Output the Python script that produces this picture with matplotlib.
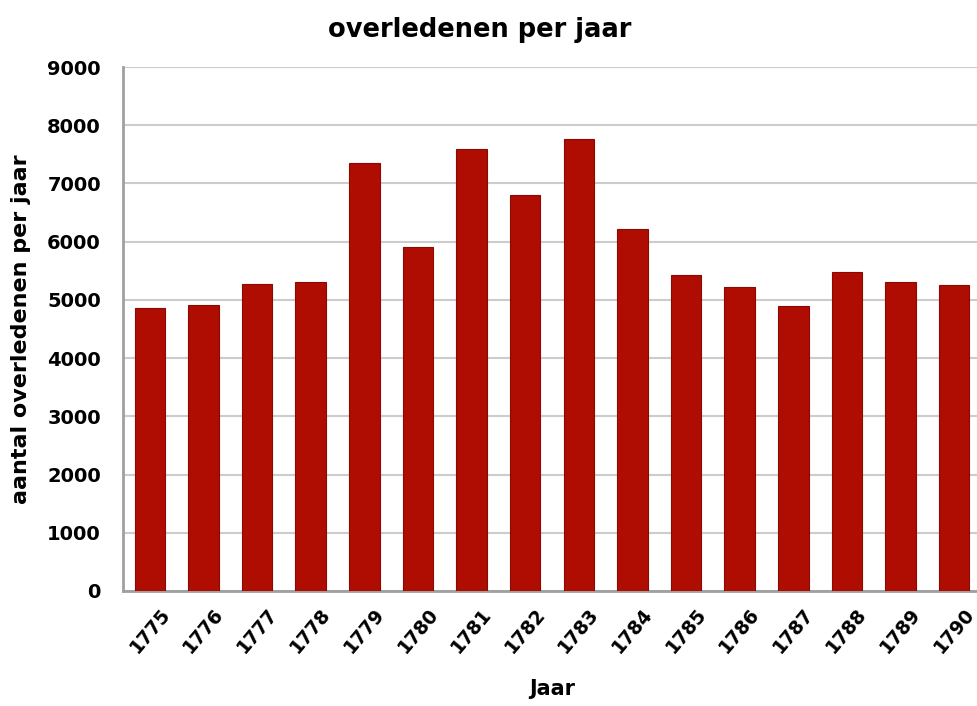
import matplotlib.pyplot as plt
import numpy as np

# overledenen per jaar, 1775-1790
jaren = ['1775', '1776', '1777', '1778', '1779', '1780', '1781', '1782',
         '1783', '1784', '1785', '1786', '1787', '1788', '1789', '1790']
overledenen = [4860, 4910, 5270, 5310, 7360, 5910, 7590, 6800,
               7770, 6220, 5420, 5230, 4900, 5480, 5310, 5260]
y_ticks = [0, 1000, 2000, 3000, 4000, 5000, 6000, 7000, 8000, 9000]

plt.rcParams['font.family'] = ['DejaVu Sans']
plt.rcParams['font.weight'] = 'bold'

fig = plt.figure(figsize=(9.77, 7.06), dpi=100)
ax = fig.add_axes([0.126, 0.163, 0.878, 0.742])

x = np.arange(len(jaren))
ax.bar(x, overledenen, width=0.57, color='#b00d02', edgecolor='#8a0a02',
       linewidth=0.8, zorder=3)

ax.set_xlim(-0.5, len(jaren) - 0.5)
ax.set_ylim(0, 9000)
ax.set_yticks(y_ticks)
ax.set_yticklabels([str(t) for t in y_ticks], fontsize=14, fontweight='bold')
ax.set_xticks(x)
ax.set_xticklabels(jaren, rotation=50, ha='center', fontsize=13.5,
                   fontweight='bold')
ax.tick_params(axis='both', length=0)
ax.tick_params(axis='y', pad=16)
ax.tick_params(axis='x', pad=10)

ax.grid(axis='y', color='#cccccc', linewidth=1.5, zorder=0)
for side in ['top', 'right']:
    ax.spines[side].set_visible(False)
ax.spines['left'].set_color('#a0a0a0')
ax.spines['left'].set_linewidth(2)
ax.spines['bottom'].set_color('#a0a0a0')
ax.spines['bottom'].set_linewidth(2)

ax.set_xlabel('Jaar', fontsize=15, fontweight='bold', labelpad=16)
fig.text(0.021, 0.534, 'aantal overledenen per jaar', rotation=90,
         fontsize=16, fontweight='bold', ha='center', va='center')
fig.text(0.491, 0.957, 'overledenen per jaar', fontsize=18.5,
         fontweight='bold', ha='center', va='center')

fig.savefig('out.png', dpi=100)
